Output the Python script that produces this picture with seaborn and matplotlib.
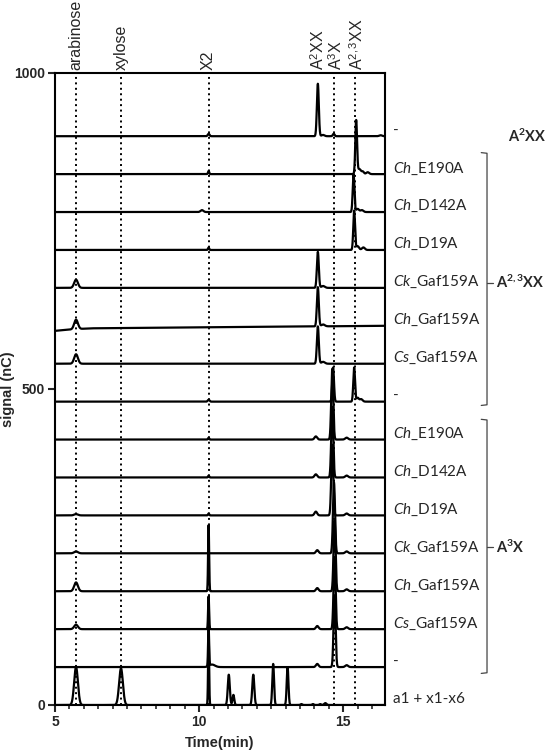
import numpy as np
import pandas as pd
import matplotlib
matplotlib.use("Agg")
import matplotlib.pyplot as plt
import seaborn as sns

# ---------------- data ----------------
# reference retention times (min) of the dotted marker lines and their top labels
marker_names = ["arabinose", "xylose", "X2", "A$^{\\mathregular{2}}$XX", "A$^{\\mathregular{3}}$X", "A$^{\\mathregular{2,3}}$XX"]
marker_times = [5.73, 7.30, 10.33, 14.15, 14.67, 15.40]
marker_label_times = [5.73, 7.30, 10.33, 14.14, 14.76, 15.47]
marker_dotted = [True, True, True, False, True, True]

# traces from bottom to top: label prefix (italic), label rest, vertical offset (nC)
trace_prefix = ["", "", "Cs", "Ch", "Ck", "Ch", "Ch", "Ch", "", "Cs", "Ch", "Ck", "Ch", "Ch", "Ch", ""]
trace_rest = ["a1 + x1-x6", "-", "_Gaf159A", "_Gaf159A", "_Gaf159A", "_D19A", "_D142A", "_E190A",
              "-", "_Gaf159A", "_Gaf159A", "_Gaf159A", "_D19A", "_D142A", "_E190A", "-"]
trace_offset = [0, 60, 120, 180, 240, 300, 360, 420, 480, 540, 600, 660, 720, 780, 840, 900]

# peaks per trace: (retention time min, height nC, width min)
peaks_std = [(5.73, 60, 0.065), (7.29, 58, 0.065), (10.33, 112, 0.018), (11.03, 48, 0.035),
             (11.19, 16, 0.03), (11.88, 48, 0.035), (12.57, 65, 0.03), (13.07, 60, 0.03),
             (13.55, 1.5, 0.03), (13.95, 1.5, 0.03), (14.2, 1.5, 0.03), (14.38, 3, 0.04)]
peaks_a3x_ctrl = [(10.33, 62, 0.018), (10.45, 4, 0.1), (14.1, 5, 0.045), (14.70, 112, 0.035), (15.12, 3, 0.05)]
peaks_a3x_cs = [(5.73, 7, 0.065), (10.33, 52, 0.018), (14.1, 5, 0.045), (14.70, 112, 0.035), (15.12, 3, 0.05)]
peaks_a3x_chgaf = [(5.73, 14, 0.065), (10.33, 105, 0.018), (14.1, 5, 0.045), (14.70, 112, 0.035), (15.12, 3, 0.05)]
peaks_a3x_ck = [(5.73, 3, 0.065), (14.1, 5, 0.045), (14.68, 112, 0.035), (15.12, 3, 0.05)]
peaks_a3x_d19 = [(5.73, 2, 0.065), (10.33, 3, 0.02), (14.05, 6, 0.045), (14.62, 112, 0.035), (15.12, 3, 0.05)]
peaks_a3x_d142 = [(10.33, 3, 0.02), (14.05, 5, 0.045), (14.62, 112, 0.035), (15.12, 3, 0.05)]
peaks_a3x_e190 = [(10.33, 3, 0.02), (14.05, 5, 0.045), (14.62, 112, 0.035), (15.12, 3, 0.05)]
peaks_a23_ctrl = [(10.33, 3, 0.03), (14.65, 54, 0.03), (15.38, 54, 0.03), (15.5, 6, 0.04), (15.62, 4, 0.05)]
peaks_a23_cs = [(5.73, 15, 0.065), (14.12, 59, 0.033), (14.3, 3, 0.06)]
peaks_a23_chgaf = [(5.73, 15, 0.065), (14.12, 62, 0.033), (14.3, 3, 0.06)]
peaks_a23_ck = [(5.73, 13, 0.065), (14.12, 57, 0.033), (14.3, 3, 0.06)]
peaks_a23_d19 = [(10.33, 4, 0.02), (15.38, 62, 0.03), (15.5, 6, 0.05), (15.7, 4, 0.05)]
peaks_a23_d142 = [(10.1, 3, 0.05), (15.36, 60, 0.03), (15.5, 5, 0.05), (15.65, 3, 0.05)]
peaks_a23_e190 = [(10.33, 5, 0.02), (15.45, 85, 0.03), (15.56, 8, 0.05), (15.68, 4, 0.04), (15.85, 3, 0.05)]
peaks_a2xx_ctrl = [(10.33, 4, 0.03), (14.12, 83, 0.033), (14.3, 2, 0.05), (14.67, 4, 0.03), (16.3, 1.5, 0.05)]

trace_peaks = [peaks_std, peaks_a3x_ctrl, peaks_a3x_cs, peaks_a3x_chgaf, peaks_a3x_ck, peaks_a3x_d19,
               peaks_a3x_d142, peaks_a3x_e190, peaks_a23_ctrl, peaks_a23_cs, peaks_a23_chgaf,
               peaks_a23_ck, peaks_a23_d19, peaks_a23_d142, peaks_a23_e190, peaks_a2xx_ctrl]

# baseline drift of the Ch_Gaf159A trace in the A2,3XX group (index 10)
drift_t = [5.0, 5.5, 6.2, 16.45]
drift_v = [-8, -6, -4, 0]

# group brackets: label, bottom nC, top nC, label level nC
group_names = ["A$^{\\mathregular{3}}$X", "A$^{\\mathregular{2,3}}$XX"]
group_lo = [51, 475]
group_hi = [451, 873]
group_mid = [250, 668]

# ---------------- build long-form table ----------------
t = np.linspace(5.0, 16.45, 4000)
rows = []
for i, (off, pk) in enumerate(zip(trace_offset, trace_peaks)):
    y = np.full_like(t, float(off))
    for rt, h, w in pk:
        y += h * np.exp(-0.5 * ((t - rt) / w) ** 2)
    if i == 10:
        y += np.interp(t, drift_t, drift_v)
    rows.append(pd.DataFrame({"time": t, "signal": y, "trace": i}))
df = pd.concat(rows, ignore_index=True)

# ---------------- plot ----------------
sns.set_style("ticks")
plt.rcParams["font.family"] = ["Liberation Sans", "DejaVu Sans"]
plt.rcParams["mathtext.fontset"] = "custom"
plt.rcParams["mathtext.it"] = "Lato:italic"
plt.rcParams["mathtext.rm"] = "Lato"

fig = plt.figure(figsize=(5.47, 7.51), dpi=100)
ax = fig.add_axes([55 / 547, 1 - 705 / 751, 330 / 547, 632 / 751])

for tm, dotted in zip(marker_times, marker_dotted):
    if dotted:
        ax.axvline(tm, color="black", lw=1.4, ls=(0, (1, 1.8)), zorder=1)

sns.lineplot(data=df, x="time", y="signal", units="trace", estimator=None,
             color="black", lw=1.6, ax=ax, legend=False, zorder=2)

ax.set_xlim(5, 16.45)
ax.set_ylim(0, 1000)
for s in ax.spines.values():
    s.set_linewidth(1.5)
    s.set_color("black")
ax.set_xticks([5, 10, 15])
ax.set_xticks(np.arange(5, 16.45, 0.5), minor=True)
ax.set_yticks([0, 500, 1000])
ax.tick_params(axis="both", which="major", length=5, width=1.5, labelsize=10, direction="out", pad=2)
ax.tick_params(axis="x", which="minor", length=3, width=1.2, direction="out")
for lab in ax.get_xticklabels() + ax.get_yticklabels():
    lab.set_fontweight("bold")
ax.set_xlabel("Time(min)", fontsize=10.5, fontweight="bold", labelpad=5)
ax.set_ylabel("signal (nC)", fontsize=10.5, fontweight="bold")
ax.yaxis.set_label_coords(-(55 - 15) / 330, 0.5)

# top labels
for name, tm in zip(marker_names, marker_label_times):
    ax.annotate(name, (tm, 1000), xytext=(0, 2), textcoords="offset points", rotation=90,
                ha="center", va="bottom", fontsize=11.5, family=["Liberation Sans", "DejaVu Sans"],
                annotation_clip=False)

# right labels
lab_x = 5 + (393 - 55) / 28.8
for pre, rest, off in zip(trace_prefix, trace_rest, trace_offset):
    txt = (f"$\\mathit{{{pre}}}$" + rest) if pre else rest
    ax.text(lab_x, off + 9, txt, ha="left", va="center", fontsize=11,
            family=["Lato", "DejaVu Sans"], clip_on=False)

ax.text(5 + (508 - 55) / 28.8, 900, "A$^{\\mathregular{2}}$XX", ha="left", va="center",
        fontsize=10.5, fontweight="bold", family=["Lato", "DejaVu Sans"], clip_on=False)

# brackets
bx = 5 + (486.7 - 55) / 28.8
hook = 0.2
for name, lo, hi, mid in zip(group_names, group_lo, group_hi, group_mid):
    ax.plot([bx - hook, bx, bx, bx - hook], [hi + 1, hi, lo, lo - 1], color="#444444",
            lw=0.9, clip_on=False)
    ax.plot([bx, bx + 0.2], [mid, mid], color="#444444", lw=0.9, clip_on=False)
    ax.text(bx + 0.3, mid, name, ha="left", va="center", fontsize=10.5, fontweight="bold",
            family=["Lato", "DejaVu Sans"], clip_on=False)

fig.savefig("out.png", dpi=100)
